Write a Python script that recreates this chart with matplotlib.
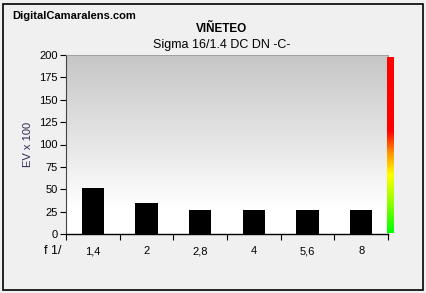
import matplotlib.pyplot as plt
import numpy as np
from matplotlib.colors import LinearSegmentedColormap
from matplotlib.patches import Rectangle

# Data
apertures = ['1,4', '2', '2,8', '4', '5,6', '8']
vignetting = [51, 35, 27, 27, 27, 27]  # EV x 100

fig = plt.figure(figsize=(4.26, 2.93), dpi=100, facecolor='#f0f0f0')
W, H = 426, 293

# outer black frame
fig.patches.append(Rectangle((2.5 / W, 3.5 / H), 420.5 / W, 286 / H,
                             transform=fig.transFigure, fill=False,
                             edgecolor='black', linewidth=1.2))

ax = fig.add_axes([66 / W, (H - 234) / H, 322 / W, 179 / H])
ax.set_facecolor('white')

# gray -> white gradient background of the plot area
grad = np.linspace(1.0, 0.0, 200)
bg = LinearSegmentedColormap.from_list(
    'bg', [(0, '#ffffff'), (0.15, '#ffffff'), (0.4, '#ededed'), (1, '#c6c6c6')])
ax.imshow(grad[:, None], cmap=bg, aspect='auto', extent=[0, 1, 0, 1],
          transform=ax.transAxes, zorder=0, vmin=0, vmax=1)

x = np.arange(len(apertures))
ax.bar(x, vignetting, width=0.41, color='black', zorder=2)
ax.set_xlim(-0.5, len(apertures) - 0.5)
ax.set_ylim(0, 200)
ax.set_yticks(range(0, 201, 25))
ax.set_xticks(np.arange(-0.5, len(apertures), 1))
ax.set_xticklabels([])
ax.set_xticks(x, minor=True)
ax.set_xticklabels(apertures, minor=True, fontsize=8, family='Liberation Sans')
ax.tick_params(axis='x', which='minor', length=0, pad=9)
ax.tick_params(axis='x', which='major', length=4, direction='out', width=0.8)
ax.tick_params(axis='y', length=4, direction='out', width=0.8, labelsize=8, pad=2)
for lab in ax.get_yticklabels():
    lab.set_family('Liberation Sans')

for side in ['top', 'right']:
    ax.spines[side].set_color('#999999')
    ax.spines[side].set_linewidth(0.6)
ax.spines['left'].set_color('#444444')
ax.spines['left'].set_linewidth(0.8)
ax.spines['bottom'].set_color('black')
ax.spines['bottom'].set_linewidth(1.0)

ax.set_ylabel('EV x 100', fontsize=8, color='#2b2b55', family='Liberation Sans', labelpad=4)

# color strip on the right
cax = fig.add_axes([387 / W, (H - 233) / H, 7 / W, 176 / H])
strip = LinearSegmentedColormap.from_list(
    'strip', [(0, '#00ff00'), (0.18, '#99ff00'), (0.33, '#ffff00'),
              (0.45, '#ff9900'), (0.58, '#ff0000'), (1, '#ff0000')])
cax.imshow(np.linspace(1, 0, 200)[:, None], cmap=strip, aspect='auto')
cax.axis('off')

fig.text(12 / W, 1 - 16 / H, 'DigitalCamaralens.com', fontsize=8, fontweight='bold',
         family='Liberation Sans', va='center', ha='left')
fig.text(222 / W, 1 - 29 / H, 'VIÑETEO', fontsize=8.5, fontweight='bold',
         family='Liberation Sans', va='center', ha='center')
fig.text(222 / W, 1 - 45 / H, 'Sigma 16/1.4 DC DN -C-', fontsize=9,
         family='Liberation Sans', va='center', ha='center')
fig.text(53 / W, 1 - 251 / H, 'f 1/', fontsize=9, family='Liberation Sans',
         va='center', ha='center')

fig.savefig('out.png', dpi=100, facecolor=fig.get_facecolor())
